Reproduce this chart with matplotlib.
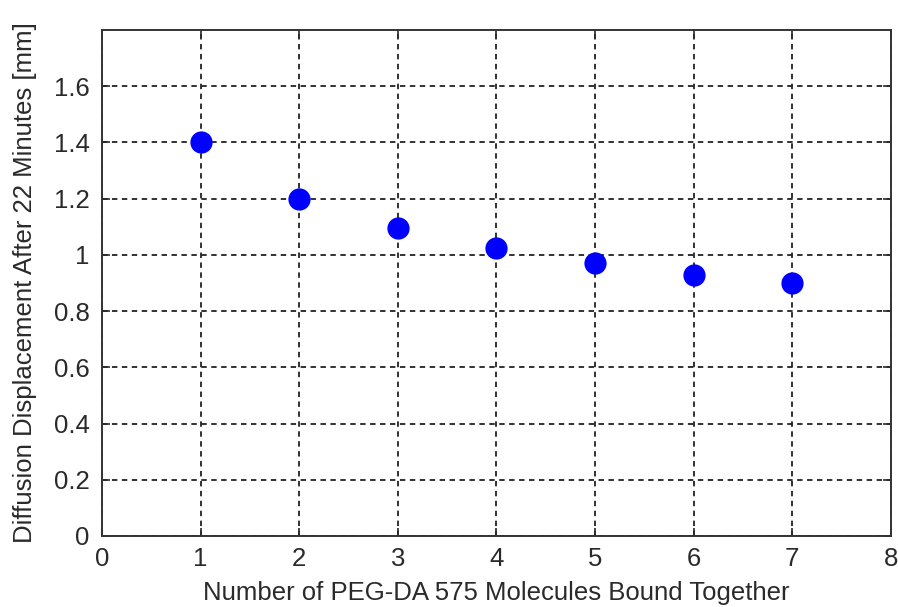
import numpy as np
import matplotlib
matplotlib.use("Agg")
import matplotlib.pyplot as plt

# === DATA ===
n_molecules = [1, 2, 3, 4, 5, 6, 7]
displacement_mm = [1.40, 1.20, 1.095, 1.024, 0.97, 0.93, 0.90]
x_ticks = [0, 1, 2, 3, 4, 5, 6, 7, 8]
y_ticks = [0, 0.2, 0.4, 0.6, 0.8, 1.0, 1.2, 1.4, 1.6]
y_labels = ["0", "0.2", "0.4", "0.6", "0.8", "1", "1.2", "1.4", "1.6"]

plt.rcParams['font.family'] = ['Liberation Sans', 'DejaVu Sans']

fig = plt.figure(figsize=(8.98, 6.07), dpi=100)
ax = fig.add_axes([0.1136, 0.117, 0.8784, 0.8336])

ax.plot(n_molecules, displacement_mm, 'o', color='#0000ff', markersize=15, zorder=3)

ax.set_xlim(0, 8)
ax.set_ylim(0, 1.8)
ax.set_xticks(x_ticks)
ax.set_yticks(y_ticks)
ax.set_yticklabels(y_labels)
# matlab-style dotted grid (rendered as short dashes)
ax.grid(True, color='#222222', linestyle=(0, (3.0, 2.5)), linewidth=1.3)
ax.tick_params(direction='in', length=6, width=1.2, labelsize=18.5, colors='#2a2a2a',
               top=True, right=True, labeltop=False, labelright=False)
ax.tick_params(axis='x', pad=8)
ax.tick_params(axis='y', pad=9)
for s in ax.spines.values():
    s.set_linewidth(1.4)
    s.set_color('#333333')

ax.set_xlabel("Number of PEG-DA 575 Molecules Bound Together", fontsize=18.5, color='#2a2a2a', labelpad=7)
ax.set_ylabel("Diffusion Displacement After 22 Minutes [mm]", fontsize=18.5, color='#2a2a2a', labelpad=12)

fig.savefig("out.png", dpi=100)
